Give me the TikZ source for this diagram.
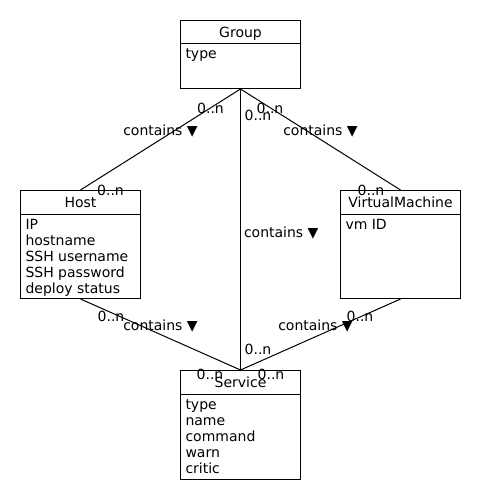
\documentclass[tikz,border=0pt]{standalone}
\usepackage{fontspec}
\setmainfont{DejaVu Sans}

\begin{document}
\begin{tikzpicture}[x=1pt, y=-1pt, line width=1pt, font=\fontsize{14}{16}\selectfont]
        \tikzstyle{every node}=[inner sep=0pt]
        \tikzstyle{cls}=[draw, rectangle, anchor=north west, minimum width=120pt]
        \tikzstyle{ttl}=[anchor=base]
        \tikzstyle{attr}=[anchor=base west, align=left]
        \useasboundingbox (0,0) rectangle (480,500);
        % classes
        \node [cls, minimum height=68pt] (grp) at (180,20) {};
        \node [cls, minimum height=108pt] (hst) at (20,190) {};
        \node [cls, minimum height=108pt] (vm) at (340,190) {};
        \node [cls, minimum height=109pt] (svc) at (180,370) {};
        \foreach \c/\t in {grp/Group, hst/Host, vm/VirtualMachine, svc/Service} {
            \draw ([yshift=-24pt]\c.north west) -- ([yshift=-24pt]\c.north east);
            \node [ttl] (\c-t) at ([yshift=-17.5pt]\c.north) {\t};
        }
        % attributes (base = last line)
        \node [attr] (grp-a) at ([xshift=5pt, yshift=-39pt]grp.north west) {type};
        \node [attr] (hst-a) at ([xshift=5pt, yshift=-103pt]hst.north west) {IP\\hostname\\SSH username\\SSH password\\deploy status};
        \node [attr] (vm-a) at ([xshift=5pt, yshift=-39pt]vm.north west) {vm ID};
        \node [attr] (svc-a) at ([xshift=5pt, yshift=-103pt]svc.north west) {type\\name\\command\\warn\\critic};
        % relations
        \draw (grp.south) -- (hst.north)
            node [midway, yshift=8pt] (r1) {contains ▼}
            node [at start, xshift=-30pt, yshift=-19pt] (r1s) {0..n}
            node [at end, xshift=30pt] (r1e) {0..n};
        \draw (grp.south) -- (vm.north)
            node [midway, yshift=8pt] (r2) {contains ▼}
            node [at start, xshift=29.5pt, yshift=-19pt] (r2s) {0..n}
            node [at end, xshift=-29.5pt] (r2e) {0..n};
        \draw (grp.south) -- (svc.north)
            node [midway, anchor=west, xshift=3pt, yshift=-4pt] (r3) {contains ▼}
            node [at start, xshift=17.5pt, yshift=-26pt] (r3s) {0..n}
            node [at end, xshift=17.5pt, yshift=21pt] (r3e) {0..n};
        \draw (hst.south) -- (svc.north)
            node [midway, yshift=8pt] (r4) {contains ▼}
            node [at start, xshift=30.5pt, yshift=-17pt] (r4s) {0..n}
            node [at end, xshift=-30.5pt, yshift=-4pt] (r4e) {0..n};
        \draw (vm.south) -- (svc.north)
            node [midway, xshift=-5pt, yshift=8pt] (r5) {contains ▼}
            node [at start, xshift=-40.5pt, yshift=-17pt] (r5s) {0..n}
            node [at end, xshift=30.5pt, yshift=-4pt] (r5e) {0..n};
    \end{tikzpicture}
\end{document}
